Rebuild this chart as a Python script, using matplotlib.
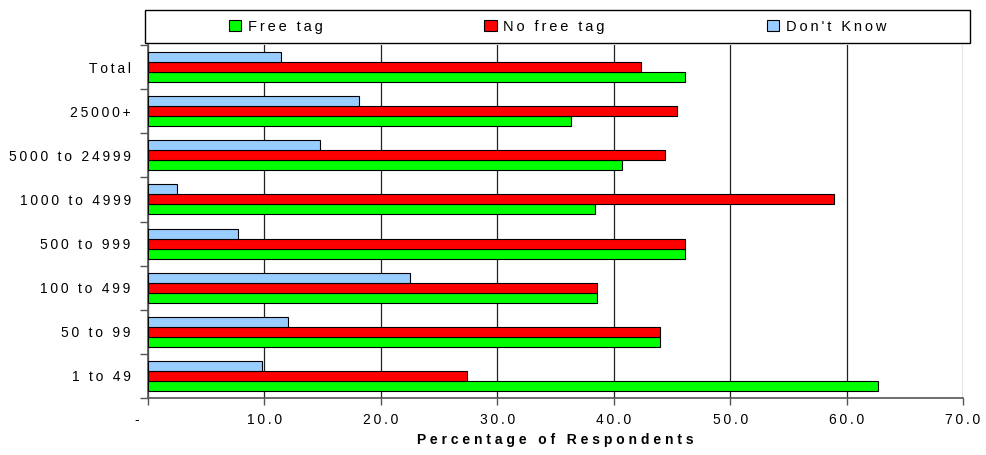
import numpy as np
import matplotlib
matplotlib.use('Agg')
import matplotlib.pyplot as plt
from matplotlib.patches import Rectangle, Patch
from matplotlib.transforms import ScaledTranslation

# data, bottom to top as drawn
categories = ['1 to 49', '50 to 99', '100 to 499', '500 to 999',
              '1000 to 4999', '5000 to 24999', '25000+', 'Total']
free_tag = [62.7, 44.0, 38.6, 46.1, 38.4, 40.7, 36.3, 46.1]
no_free_tag = [27.4, 44.0, 38.6, 46.1, 58.9, 44.4, 45.4, 42.3]
dont_know = [9.8, 12.0, 22.5, 7.7, 2.5, 14.8, 18.1, 11.4]
xticks = [0, 10, 20, 30, 40, 50, 60, 70]
xticklabels = ['-', '10.0', '20.0', '30.0', '40.0', '50.0', '60.0', '70.0']

TS = '\u2009'  # thin space used as letter spacing


def spaced(s, sep=TS):
    return sep.join(list(s))


plt.rcParams['font.family'] = ['Liberation Sans', 'DejaVu Sans']

fig = plt.figure(figsize=(9.87, 4.55), dpi=100)
ax = fig.add_axes([0.1500, 0.1253, 0.8257, 0.7757])

y = np.arange(len(categories))
h = 0.227
ax.barh(y - h, free_tag, height=h, color='#00ff00', edgecolor='black', linewidth=0.8, zorder=3, label='Free tag')
ax.barh(y, no_free_tag, height=h, color='#ff0000', edgecolor='black', linewidth=0.8, zorder=3, label='No free tag')
ax.barh(y + h, dont_know, height=h, color='#99ccff', edgecolor='black', linewidth=0.8, zorder=3, label="Don't Know")

ax.set_xlim(0, 70)
ax.set_ylim(-0.5, len(categories) - 0.5)

ax.set_xticks(xticks)
ax.set_xticklabels([spaced(t) for t in xticklabels], fontsize=10)
ax.tick_params(axis='x', direction='out', length=5, width=1, color='#555555', pad=6)
# the zero label "-" sits a bit left of the axis
zero_lab = ax.get_xticklabels()[0]
zero_lab.set_transform(zero_lab.get_transform() + ScaledTranslation(-0.11, 0, fig.dpi_scale_trans))

ax.set_yticks(y)
ax.set_yticklabels([spaced(c) for c in categories], fontsize=10)
ax.set_yticks(np.arange(len(categories) + 1) - 0.5, minor=True)
ax.tick_params(axis='y', which='major', length=0, pad=12.5)
ax.tick_params(axis='y', which='minor', direction='out', length=6, width=1, color='#555555')

ax.xaxis.grid(True, color='#222222', linewidth=0.9, zorder=0)
ax.set_axisbelow(True)
for s in ['top', 'right']:
    ax.spines[s].set_visible(False)
for s in ['left', 'bottom']:
    ax.spines[s].set_color('#555555')
    ax.spines[s].set_linewidth(1.2)

ax.set_xlabel(spaced('Percentage of Respondents', ' '), fontsize=10, fontweight='bold', labelpad=4)

# legend box across the top
fig.patches.append(Rectangle((145 / 987, 1 - 43.3 / 455), 825 / 987, 33.3 / 455,
                             transform=fig.transFigure, facecolor='white',
                             edgecolor='black', linewidth=1.0))
handles = [Patch(facecolor='#00ff00', edgecolor='black', linewidth=0.8),
           Patch(facecolor='#ff0000', edgecolor='black', linewidth=0.8),
           Patch(facecolor='#99ccff', edgecolor='black', linewidth=0.8)]
labels = [spaced('Free tag'), spaced('No free tag'), spaced("Don't Know")]
fig.legend(handles, labels, loc='center', bbox_to_anchor=(557.5 / 987, 1 - 26.6 / 455),
           ncol=3, frameon=False, fontsize=10.5, handlelength=0.85, handleheight=0.7,
           handletextpad=0.45, columnspacing=11.1)

fig.savefig('out.png', dpi=100)
